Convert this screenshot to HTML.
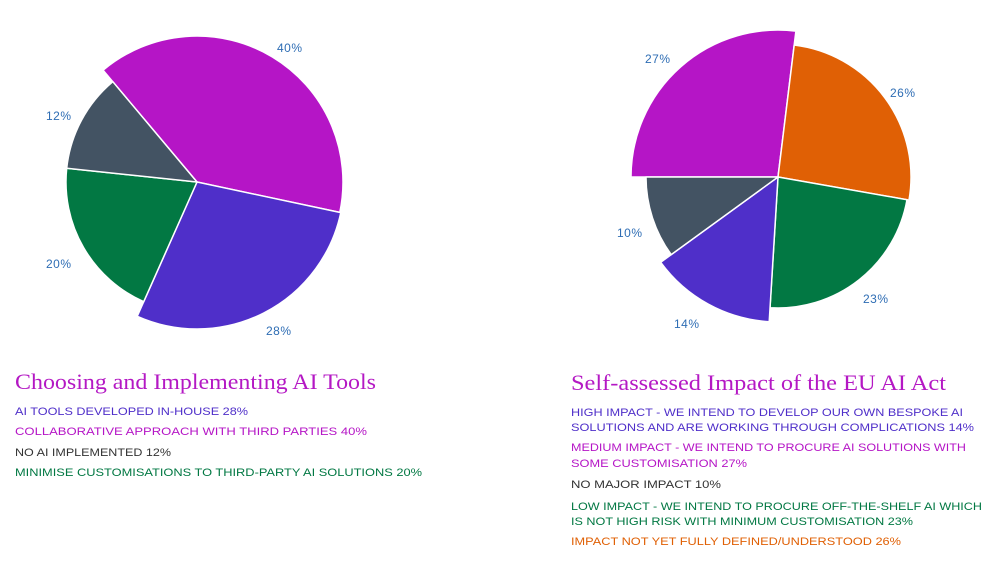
<!DOCTYPE html>
<html><head><meta charset="utf-8"><style>
html,body{margin:0;padding:0;background:#fff;}
svg{display:block;}
.l{font-family:"Liberation Sans",sans-serif;font-size:12px;fill:#2e6db4;letter-spacing:0.5px;}
.t{font-family:"Liberation Serif",serif;font-size:22px;fill:#b418c4;}
.g{font-family:"Liberation Sans",sans-serif;font-size:11px;}
</style></head><body>
<svg width="1000" height="566" viewBox="0 0 1000 566" xmlns="http://www.w3.org/2000/svg">
<g stroke="#fff" stroke-width="1.5" stroke-linejoin="round">
<path d="M197,182 L103.1,70.2 A146,146 0 0 1 339.8,212.4 Z" fill="#b515c6"/>
<path d="M197,182 L340.8,212.6 A147,147 0 0 1 137.2,316.3 Z" fill="#4f2fc9"/>
<path d="M197,182 L143.7,301.7 A131,131 0 0 1 66.7,168.3 Z" fill="#027843"/>
<path d="M197,182 L66.7,168.3 A131,131 0 0 1 112.8,81.7 Z" fill="#435363"/>

<path d="M778,177 L631,177 A147,147 0 0 1 795.9,31.1 Z" fill="#b515c6"/>
<path d="M778,177 L794.2,45 A133,133 0 0 1 909,200.1 Z" fill="#e06005"/>
<path d="M778,177 L907,199.7 A131,131 0 0 1 770,307.7 Z" fill="#027843"/>
<path d="M778,177 L769.2,321.7 A145,145 0 0 1 660.7,262.3 Z" fill="#4f2fc9"/>
<path d="M778,177 L671.2,254.6 A132,132 0 0 1 646,177 Z" fill="#435363"/>
</g>
<text class="l" x="277" y="52">40%</text>
<text class="l" x="46" y="120">12%</text>
<text class="l" x="46" y="268">20%</text>
<text class="l" x="266" y="335">28%</text>
<text class="l" x="645" y="63">27%</text>
<text class="l" x="890" y="97">26%</text>
<text class="l" x="617" y="237">10%</text>
<text class="l" x="863" y="303">23%</text>
<text class="l" x="674" y="328">14%</text>

<text class="t" x="15" y="389" textLength="361" lengthAdjust="spacingAndGlyphs">Choosing and Implementing AI Tools</text>
<text class="g" x="15" y="415" fill="#4f2fc9" textLength="233" lengthAdjust="spacingAndGlyphs">AI TOOLS DEVELOPED IN-HOUSE 28%</text>
<text class="g" x="15" y="435" fill="#b515c6" textLength="352" lengthAdjust="spacingAndGlyphs">COLLABORATIVE APPROACH WITH THIRD PARTIES 40%</text>
<text class="g" x="15" y="456" fill="#333" textLength="156" lengthAdjust="spacingAndGlyphs">NO AI IMPLEMENTED 12%</text>
<text class="g" x="15" y="476" fill="#027843" textLength="407" lengthAdjust="spacingAndGlyphs">MINIMISE CUSTOMISATIONS TO THIRD-PARTY AI SOLUTIONS 20%</text>

<text class="t" x="571" y="390" textLength="375" lengthAdjust="spacingAndGlyphs">Self-assessed Impact of the EU AI Act</text>
<text class="g" x="571" y="416" fill="#4f2fc9" textLength="392" lengthAdjust="spacingAndGlyphs">HIGH IMPACT - WE INTEND TO DEVELOP OUR OWN BESPOKE AI</text>
<text class="g" x="571" y="431" fill="#4f2fc9" textLength="403" lengthAdjust="spacingAndGlyphs">SOLUTIONS AND ARE WORKING THROUGH COMPLICATIONS 14%</text>
<text class="g" x="571" y="451" fill="#b515c6" textLength="395" lengthAdjust="spacingAndGlyphs">MEDIUM IMPACT - WE INTEND TO PROCURE AI SOLUTIONS WITH</text>
<text class="g" x="571" y="467" fill="#b515c6" textLength="176" lengthAdjust="spacingAndGlyphs">SOME CUSTOMISATION 27%</text>
<text class="g" x="571" y="488" fill="#333" textLength="150" lengthAdjust="spacingAndGlyphs">NO MAJOR IMPACT 10%</text>
<text class="g" x="571" y="510" fill="#027843" textLength="411" lengthAdjust="spacingAndGlyphs">LOW IMPACT - WE INTEND TO PROCURE OFF-THE-SHELF AI WHICH</text>
<text class="g" x="571" y="525" fill="#027843" textLength="342" lengthAdjust="spacingAndGlyphs">IS NOT HIGH RISK WITH MINIMUM CUSTOMISATION 23%</text>
<text class="g" x="571" y="545" fill="#e06005" textLength="330" lengthAdjust="spacingAndGlyphs">IMPACT NOT YET FULLY DEFINED/UNDERSTOOD 26%</text>
</svg>
</body></html>
